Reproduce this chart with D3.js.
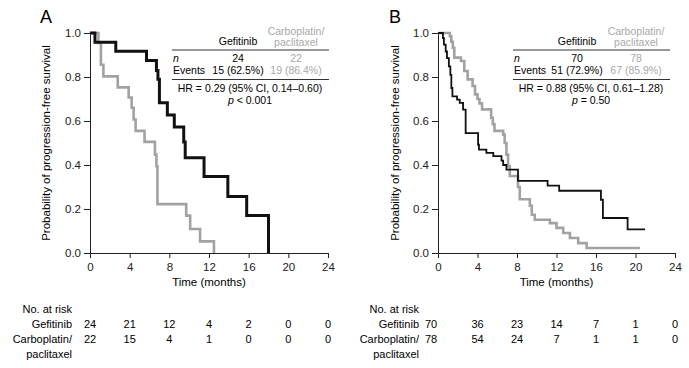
<!DOCTYPE html>
<html>
<head>
<meta charset="utf-8">
<script src="https://cdn.jsdelivr.net/npm/d3@7"></script>
<style>
  body { margin: 0; background: #fff; }
  svg { display: block; font-family: "Liberation Sans", Arial, sans-serif; }
</style>
</head>
<body>
<svg width="689" height="368"></svg>
<script>
const svg = d3.select('svg');

// tick months and risk table columns
const months = [0, 4, 8, 12, 16, 20, 24];
const yTicks = [0, 0.2, 0.4, 0.6, 0.8, 1.0];

// Kaplan-Meier steps [month, survival]
const gefitinibA = [[0, 1], [0.5, 0.958], [2.6, 0.917], [5.7, 0.875], [6.7, 0.83], [6.85, 0.79],
  [7.0, 0.683], [7.8, 0.627], [8.5, 0.573], [9.45, 0.505], [9.6, 0.433], [11.5, 0.348],
  [13.9, 0.257], [15.8, 0.171], [18.0, 0]];
const carboA = [[0, 1], [0.85, 0.955], [1.1, 0.856], [1.35, 0.803], [2.8, 0.753], [3.9, 0.707],
  [4.2, 0.66], [4.4, 0.607], [4.6, 0.555], [5.5, 0.505], [6.55, 0.447], [6.7, 0.394],
  [6.8, 0.222], [9.7, 0.17], [10.1, 0.109], [11.1, 0.053], [12.5, 0]];
const gefitinibB = [[0, 1], [0.5, 0.977], [0.6, 0.947], [0.78, 0.916], [0.91, 0.886], [1.1, 0.848],
  [1.25, 0.81], [1.35, 0.75], [1.46, 0.712], [1.93, 0.697], [2.2, 0.682], [2.54, 0.652],
  [2.8, 0.545], [4.06, 0.492], [4.15, 0.47], [4.9, 0.455], [5.6, 0.44], [6.43, 0.42],
  [6.6, 0.4], [6.93, 0.379], [8.1, 0.328], [11.1, 0.306], [12.27, 0.283], [16.5, 0.242],
  [16.7, 0.159], [19.2, 0.107], [20.96, 0.107]];
const carboB = [[0, 1], [1.2, 0.985], [1.35, 0.96], [1.5, 0.933], [1.65, 0.888], [2.33, 0.873],
  [2.66, 0.827], [3.0, 0.789], [3.5, 0.759], [3.75, 0.721], [4.0, 0.7], [4.2, 0.68],
  [4.46, 0.653], [5.38, 0.615], [5.55, 0.585], [5.72, 0.555], [6.6, 0.538], [6.75, 0.5],
  [6.93, 0.447], [7.1, 0.394], [7.27, 0.35], [8.1, 0.3], [8.28, 0.244], [9.3, 0.215],
  [9.5, 0.174], [9.8, 0.151], [11.33, 0.136], [12.0, 0.114], [12.68, 0.091], [13.36, 0.068],
  [14.2, 0.045], [15.05, 0.023], [20.45, 0.023]];

// numbers at risk
const riskGefA = [24, 21, 12, 4, 2, 0, 0];
const riskCarboA = [22, 15, 4, 1, 0, 0, 0];
const riskGefB = [70, 36, 23, 14, 7, 1, 0];
const riskCarboB = [78, 54, 24, 7, 1, 1, 0];

// summary table text
const tableA = { n: ['24', '22'], events: ['15 (62.5%)', '19 (86.4%)'],
  hr: 'HR = 0.29 (95% CI, 0.14\u20130.60)', p: ['< 0.001'] };
const tableB = { n: ['70', '78'], events: ['51 (72.9%)', '67 (85.9%)'],
  hr: 'HR = 0.88 (95% CI, 0.61\u20131.28)', p: ['= 0.50'] };

const grey = '#a2a2a2';
const greyText = '#a8a8a8';

const y = d3.scaleLinear().domain([0, 1]).range([253, 33]);

const drawPanel = (cfg) => {
  const x = d3.scaleLinear().domain([0, 24]).range(cfg.xRange);
  const g = svg.append('g');

  // panel letter
  g.append('text').attr('x', cfg.letterX).attr('y', 23)
    .attr('font-size', 18).text(cfg.letter);

  // axes
  const xAxis = g.append('g').attr('transform', `translate(0,${y(0)})`)
    .call(d3.axisBottom(x).tickValues(months).tickSize(5).tickSizeOuter(0));
  const yAxis = g.append('g').attr('transform', `translate(${x(0)},0)`)
    .call(d3.axisLeft(y).tickValues(yTicks).tickFormat(d3.format('.1f')).tickSize(6).tickSizeOuter(0));
  [xAxis, yAxis].forEach(a => {
    a.selectAll('text').attr('font-size', 11.5).attr('font-family', '"Liberation Sans", Arial, sans-serif').attr('fill', '#222');
    a.selectAll('line, path').attr('stroke', '#222');
  });
  xAxis.selectAll('text').attr('dy', '0.9em');

  g.append('text').attr('x', x(12)).attr('y', 286).attr('text-anchor', 'middle')
    .attr('font-size', 11.5).text('Time (months)');
  g.append('text').attr('transform', `translate(${cfg.yLabelX},143) rotate(-90)`)
    .attr('text-anchor', 'middle').attr('font-size', 11.5)
    .text('Probability of progression-free survival');

  // curves
  const line = d3.line().x(d => x(d[0])).y(d => y(d[1])).curve(d3.curveStepAfter);
  g.append('path').datum(cfg.carbo).attr('d', line).attr('fill', 'none')
    .attr('stroke', grey).attr('stroke-width', cfg.greyWidth);
  g.append('path').datum(cfg.gef).attr('d', line).attr('fill', 'none')
    .attr('stroke', '#111').attr('stroke-width', cfg.blackWidth);

  // summary table
  const t = cfg.table;
  const tx = cfg.tableX;
  const fs = 10.5;
  g.append('text').attr('x', tx.c1).attr('y', 45).attr('text-anchor', 'middle')
    .attr('font-size', fs).text('Gefitinib');
  g.append('text').attr('x', tx.c2).attr('y', 35).attr('text-anchor', 'middle')
    .attr('font-size', fs).attr('fill', greyText).text('Carboplatin/');
  g.append('text').attr('x', tx.c2).attr('y', 46).attr('text-anchor', 'middle')
    .attr('font-size', fs).attr('fill', greyText).text('paclitaxel');
  g.append('line').attr('x1', tx.left).attr('x2', tx.right).attr('y1', 50).attr('y2', 50)
    .attr('stroke', '#333').attr('stroke-width', 1);
  g.append('text').attr('x', tx.left + 1).attr('y', 62).attr('font-size', fs)
    .attr('font-style', 'italic').text('n');
  g.append('text').attr('x', tx.left + 1).attr('y', 74).attr('font-size', fs).text('Events');
  [t.n, t.events].forEach((row, r) => {
    g.append('text').attr('x', tx.c1).attr('y', 62 + r * 12).attr('text-anchor', 'middle')
      .attr('font-size', fs).text(row[0]);
    g.append('text').attr('x', tx.c2).attr('y', 62 + r * 12).attr('text-anchor', 'middle')
      .attr('font-size', fs).attr('fill', greyText).text(row[1]);
  });
  g.append('line').attr('x1', tx.left).attr('x2', tx.right).attr('y1', 79.5).attr('y2', 79.5)
    .attr('stroke', '#333').attr('stroke-width', 1);
  g.append('text').attr('x', tx.hr).attr('y', 92).attr('text-anchor', 'middle')
    .attr('font-size', fs).text(t.hr);
  const p = g.append('text').attr('x', tx.hr).attr('y', 104).attr('text-anchor', 'middle')
    .attr('font-size', fs);
  p.append('tspan').attr('font-style', 'italic').text('p');
  p.append('tspan').text(' ' + t.p[0]);

  // numbers at risk
  const labX = cfg.riskLabelX;
  const rfs = 11;
  g.append('text').attr('x', labX).attr('y', 313).attr('text-anchor', 'end')
    .attr('font-size', rfs).text('No. at risk');
  g.append('text').attr('x', labX).attr('y', 328).attr('text-anchor', 'end')
    .attr('font-size', rfs).text('Gefitinib');
  g.append('text').attr('x', labX).attr('y', 343).attr('text-anchor', 'end')
    .attr('font-size', rfs).text('Carboplatin/');
  g.append('text').attr('x', labX).attr('y', 358).attr('text-anchor', 'end')
    .attr('font-size', rfs).text('paclitaxel');
  [cfg.riskGef, cfg.riskCarbo].forEach((row, r) => {
    g.selectAll(null).data(row).enter().append('text')
      .attr('x', (d, i) => x(months[i]) + (i === 0 ? cfg.firstShift : 0))
      .attr('y', 328 + r * 15).attr('text-anchor', 'middle')
      .attr('font-size', rfs).text(d => d);
  });
};

drawPanel({
  letter: 'A', letterX: 40, xRange: [90, 328], yLabelX: 50,
  gef: gefitinibA, carbo: carboA, blackWidth: 3, greyWidth: 2.6,
  table: tableA, tableX: { left: 172, right: 329, c1: 238, c2: 296, hr: 250 },
  riskGef: riskGefA, riskCarbo: riskCarboA, riskLabelX: 72, firstShift: 0
});

drawPanel({
  letter: 'B', letterX: 389, xRange: [438, 675], yLabelX: 399,
  gef: gefitinibB, carbo: carboB, blackWidth: 1.8, greyWidth: 2.6,
  table: tableB, tableX: { left: 513, right: 670, c1: 577, c2: 636, hr: 591 },
  riskGef: riskGefB, riskCarbo: riskCarboB, riskLabelX: 419, firstShift: -7
});
</script>
</body>
</html>
